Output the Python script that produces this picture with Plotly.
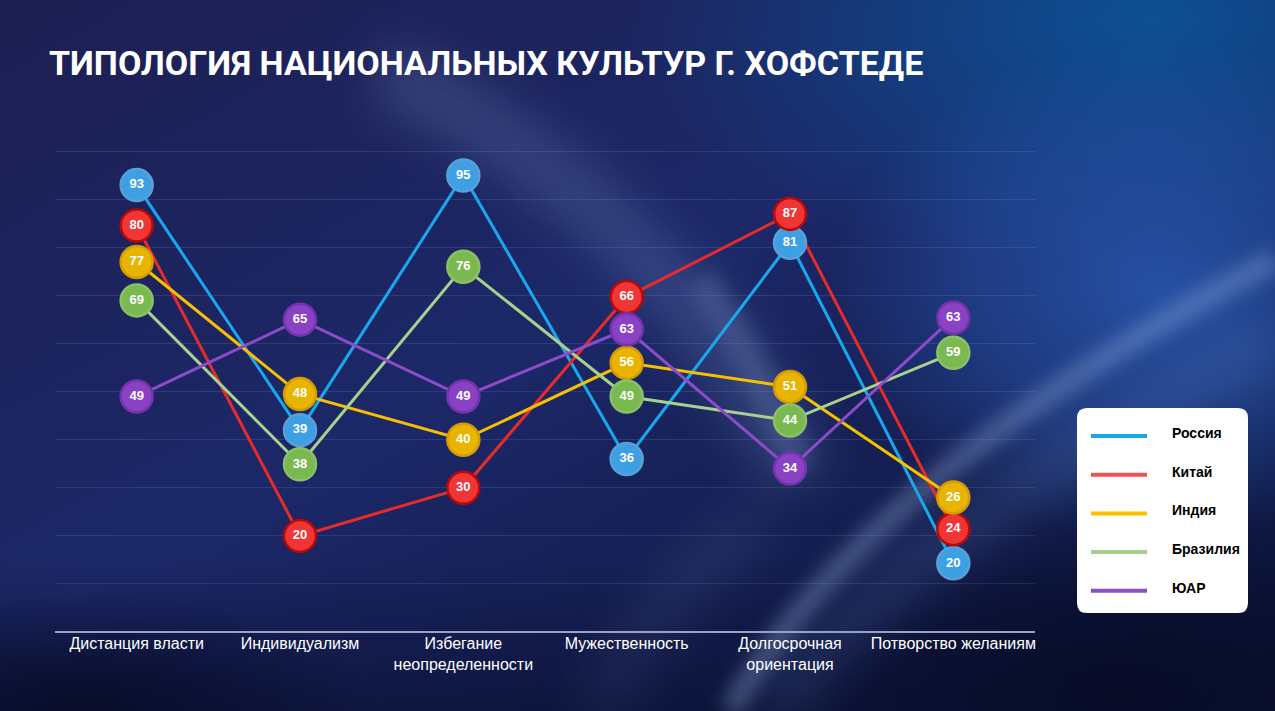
import base64
import plotly.graph_objects as go

# --- данные ---
categories = ["Дистанция власти", "Индивидуализм", "Избегание<br>неопределенности",
              "Мужественность", "Долгосрочная<br>ориентация", "Потворство желаниям"]

countries = ["Россия", "Китай", "Индия", "Бразилия", "ЮАР"]

russia = [93, 39, 95, 36, 81, 20]
china = [80, 20, 30, 66, 87, 24]
india = [77, 48, 40, 56, 51, 26]
brazil = [69, 38, 76, 49, 44, 59]
sar = [49, 65, 49, 63, 34, 63]

# небольшой разнос кружков, чтобы подписи не налезали друг на друга (как в оригинале)
russia_shift = [0, 3, 0, 0, 0, -5.7]
china_shift = [4.6, 0, 0, 3.7, 0, -2.6]
india_shift = [0, 1.5, 0, 0, 0, 2]
brazil_shift = [0, -3.1, 0, 0, 0, -0.9]
sar_shift = [0, 0, 0, 0, 0, 2.4]

series = [russia, china, india, brazil, sar]
shifts = [russia_shift, china_shift, india_shift, brazil_shift, sar_shift]

line_colors = ["#19a8ee", "#e62b2b", "#f6bf00", "#a8d18d", "#8c4cc8"]
marker_fill = ["#3d9fe4", "#f03535", "#e8b400", "#7ab850", "#8a42c4"]
marker_edge = ["#5a9fd8", "#b50a0a", "#d49c00", "#8cc066", "#7432ae"]
legend_colors = ["#1aa7e6", "#f05050", "#f8c000", "#a6d08c", "#8b4fc8"]

W, H = 1275, 711
L, R, T, B = 55, 240, 150, 79
PW, PH = W - L - R, H - T - B
YMAX = 100.3


def px(x):
    return (x - L) / PW


def py(y):
    return (H - B - y) / PH


# --- фон (svg-картинка с градиентами) ---
bg_svg = f"""<svg xmlns='http://www.w3.org/2000/svg' width='{W}' height='{H}' viewBox='0 0 {W} {H}'>
<defs>
<linearGradient id='g' x1='0' y1='0' x2='1' y2='1'>
<stop offset='0' stop-color='#1d1f52'/>
<stop offset='0.45' stop-color='#1c2868'/>
<stop offset='1' stop-color='#0a1234'/>
</linearGradient>
<linearGradient id='bt' x1='0' y1='0' x2='0' y2='1'>
<stop offset='0' stop-color='#0a1032' stop-opacity='0'/>
<stop offset='1' stop-color='#0a1032' stop-opacity='0.6'/>
</linearGradient>
<radialGradient id='tr' cx='0.5' cy='0.5' r='0.5'>
<stop offset='0' stop-color='#0c5296' stop-opacity='0.95'/>
<stop offset='1' stop-color='#0c5296' stop-opacity='0'/>
</radialGradient>
<radialGradient id='rg' cx='0.5' cy='0.5' r='0.5'>
<stop offset='0' stop-color='#2a5cb8' stop-opacity='0.8'/>
<stop offset='0.6' stop-color='#2a5cb8' stop-opacity='0.4'/>
<stop offset='1' stop-color='#2a5cb8' stop-opacity='0'/>
</radialGradient>
<radialGradient id='dk' cx='0.5' cy='0.5' r='0.5'>
<stop offset='0' stop-color='#060a24' stop-opacity='0.85'/>
<stop offset='1' stop-color='#060a24' stop-opacity='0'/>
</radialGradient>
<filter id='b1' x='-50%' y='-50%' width='200%' height='200%'><feGaussianBlur stdDeviation='24'/></filter>
<filter id='b2' x='-50%' y='-50%' width='200%' height='200%'><feGaussianBlur stdDeviation='9'/></filter>
</defs>
<rect width='{W}' height='{H}' fill='url(#g)'/>
<rect y='560' width='{W}' height='151' fill='url(#bt)'/>
<ellipse cx='1150' cy='20' rx='520' ry='260' fill='url(#tr)'/>
<ellipse cx='1160' cy='290' rx='330' ry='250' fill='url(#rg)'/>
<ellipse cx='1120' cy='690' rx='380' ry='170' fill='url(#dk)'/>
<ellipse cx='80' cy='711' rx='300' ry='120' fill='url(#dk)'/>
<path d='M 380 70 Q 660 200 800 480' stroke='#8eaae0' stroke-opacity='0.22' stroke-width='60' fill='none' filter='url(#b1)'/>
<path d='M 700 280 Q 760 360 800 470' stroke='#b0c4ee' stroke-opacity='0.16' stroke-width='30' fill='none' filter='url(#b2)'/>
<path d='M 730 711 Q 860 480 1275 260' stroke='#a8c4f0' stroke-opacity='0.32' stroke-width='22' fill='none' filter='url(#b2)'/>
<path d='M 770 711 Q 910 530 1275 340' stroke='#6c94e0' stroke-opacity='0.22' stroke-width='40' fill='none' filter='url(#b1)'/>
<path d='M 600 711 Q 650 600 760 520' stroke='#8aa6e0' stroke-opacity='0.12' stroke-width='40' fill='none' filter='url(#b1)'/>
</svg>"""
bg_uri = "data:image/svg+xml;base64," + base64.b64encode(bg_svg.encode("utf-8")).decode()

fig = go.Figure()

# сначала все линии, потом кружки поверх
for name, vals, sh, col in zip(countries, series, shifts, line_colors):
    fig.add_trace(go.Scatter(
        x=categories, y=[v + s for v, s in zip(vals, sh)],
        mode="lines", line=dict(color=col, width=3),
        name=name, showlegend=False, hoverinfo="skip"
    ))

for name, vals, sh, fill, edge in zip(countries, series, shifts, marker_fill, marker_edge):
    fig.add_trace(go.Scatter(
        x=categories, y=[v + s for v, s in zip(vals, sh)],
        mode="markers+text", text=[str(v) for v in vals],
        textposition="middle center",
        textfont=dict(family="Liberation Sans", size=13, color="white", weight="bold"),
        marker=dict(size=32, color=fill, line=dict(color=edge, width=2.5)),
        name=name, showlegend=False,
        hovertemplate=name + ": %{text}<extra></extra>"
    ))

# --- легенда (белая карточка со скруглёнными углами) ---
x0, x1, y0, y1, rad = 1077, 1248, 408, 613, 10
rx, ry = rad / PW, rad / PH
card = (f"M {px(x0) + rx} {py(y0)} L {px(x1) - rx} {py(y0)} "
        f"Q {px(x1)} {py(y0)} {px(x1)} {py(y0) - ry} "
        f"L {px(x1)} {py(y1) + ry} Q {px(x1)} {py(y1)} {px(x1) - rx} {py(y1)} "
        f"L {px(x0) + rx} {py(y1)} Q {px(x0)} {py(y1)} {px(x0)} {py(y1) + ry} "
        f"L {px(x0)} {py(y0) - ry} Q {px(x0)} {py(y0)} {px(x0) + rx} {py(y0)} Z")
shapes = [dict(type="path", path=card, xref="paper", yref="paper",
               fillcolor="white", line=dict(width=0), layer="above")]
annotations = []
for i, (name, col) in enumerate(zip(countries, legend_colors)):
    ly = 436 + i * 38.7
    shapes.append(dict(type="line", xref="paper", yref="paper",
                       x0=px(1091), x1=px(1147), y0=py(ly), y1=py(ly),
                       line=dict(color=col, width=4), layer="above"))
    annotations.append(dict(text=f"<b>{name}</b>", xref="paper", yref="paper",
                            x=px(1170), y=py(ly - 3), xanchor="left", yanchor="middle",
                            showarrow=False,
                            font=dict(family="Liberation Sans", size=14, color="black")))

annotations.append(dict(text="<b>ТИПОЛОГИЯ НАЦИОНАЛЬНЫХ КУЛЬТУР Г. ХОФСТЕДЕ</b>",
                        xref="paper", yref="paper", x=px(47), y=py(63),
                        xanchor="left", yanchor="middle", showarrow=False,
                        font=dict(family="Roboto", size=34, color="white")))

fig.update_layout(
    width=W, height=H,
    margin=dict(l=L, r=R, t=T, b=B),
    paper_bgcolor="#1a2060", plot_bgcolor="rgba(0,0,0,0)",
    images=[dict(source=bg_uri, xref="paper", yref="paper",
                 x=px(0), y=py(0), sizex=W / PW, sizey=H / PH,
                 xanchor="left", yanchor="top", sizing="stretch", layer="below")],
    shapes=shapes, annotations=annotations,
    showlegend=False,
    xaxis=dict(type="category", range=[-0.5, 5.5], showgrid=False, zeroline=False,
               showline=False, ticks="", ticklen=0,
               tickfont=dict(family="Liberation Sans", size=16, color="white"),
               fixedrange=True),
    yaxis=dict(range=[0, YMAX], dtick=10, showticklabels=False, zeroline=True,
               zerolinecolor="#9aa2c4", zerolinewidth=2,
               gridcolor="rgba(150,170,230,0.16)", gridwidth=1, fixedrange=True),
    font=dict(family="Liberation Sans", color="white"),
)

fig.write_html("out.html", config={"displayModeBar": False},
               post_script="document.body.style.margin='0';"
                           "document.body.style.background='#1a2060';")
